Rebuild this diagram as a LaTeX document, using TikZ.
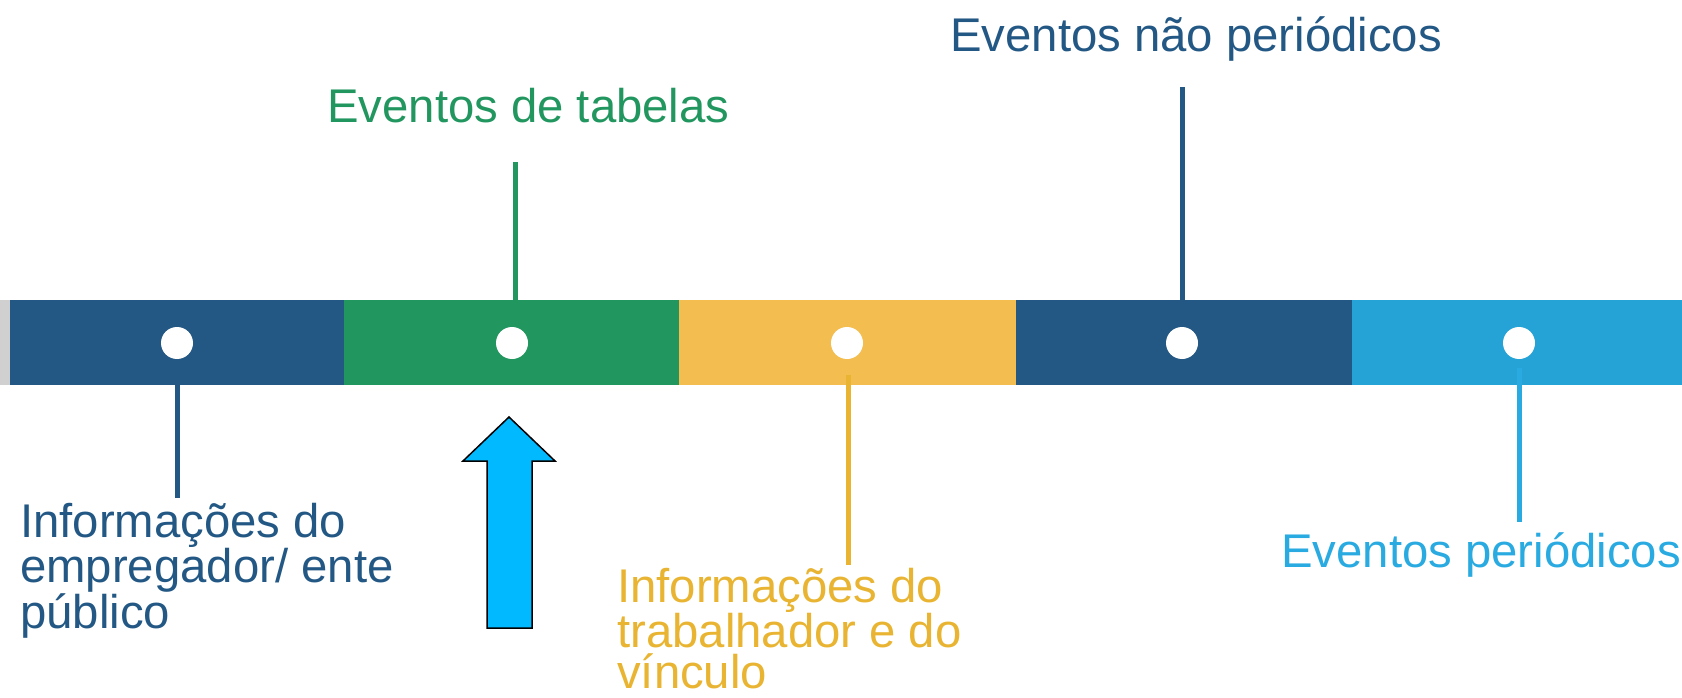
\documentclass[tikz,border=0pt]{standalone}
\usepackage{fontspec}
\setmainfont{Liberation Sans}
\definecolor{navy}{HTML}{235885}
\definecolor{grn}{HTML}{22965F}
\definecolor{ylwbar}{HTML}{F3BD50}
\definecolor{ylw}{HTML}{E8B431}
\definecolor{skybar}{HTML}{25A3D6}
\definecolor{sky}{HTML}{29AAE1}
\definecolor{arrowblue}{HTML}{00B9FF}
\definecolor{sliver}{HTML}{D0D0D0}
\begin{document}
\begin{tikzpicture}[x=1pt,y=-1pt,
  dot/.style={circle,fill=white,draw=none,minimum size=32pt,inner sep=0pt},
  conn/.style={line width=5pt},
  lbl/.style={anchor=base west,inner sep=0pt,align=left,font=\fontsize{47.3}{44.5}\selectfont},
  lbly/.style={anchor=base west,inner sep=0pt,align=left,font=\fontsize{47.3}{40.5}\selectfont}]
\useasboundingbox (0,0) rectangle (1682,698);
% bar
\fill[sliver] (0,300) rectangle (10,385);
\fill[navy] (10,300) rectangle (344,385);
\fill[grn] (344,300) rectangle (679,385);
\fill[ylwbar] (679,300) rectangle (1016,385);
\fill[navy] (1016,300) rectangle (1352,385);
\fill[skybar] (1352,300) rectangle (1682,385);
% dots
\node[dot] (c1) at (177,343) {};
\node[dot] (c2) at (512,343) {};
\node[dot] (c3) at (847,343) {};
\node[dot] (c4) at (1182,343) {};
\node[dot] (c5) at (1519,343) {};
% labels (multi-line nodes: base = last line's baseline)
\node[lbl,text=navy] (t1) at (20,628) {Informações do\\empregador/ ente\\público};
\node[lbl,text=grn] (t2) at (327,123) {Eventos de tabelas};
\node[lbly,text=ylw] (t3) at (617,688) {Informações do\\trabalhador e do\\vínculo};
\node[lbl,text=navy] (t4) at (950,52) {Eventos não periódicos};
\node[lbl,text=sky] (t5) at (1281,567) {Eventos periódicos};
% connector ends
\coordinate (e1a) at (177,360); \coordinate (e1b) at (177,498);
\coordinate (e2a) at (515,300); \coordinate (e2b) at (515,162);
\coordinate (e3a) at (848,375); \coordinate (e3b) at (848,565);
\coordinate (e4a) at (1182,300); \coordinate (e4b) at (1182,87);
\coordinate (e5a) at (1519,368); \coordinate (e5b) at (1519,522);
\draw[conn,navy] (e1a) -- (e1b);
\draw[conn,grn] (e2a) -- (e2b);
\draw[conn,ylw] (e3a) -- (e3b);
\draw[conn,navy] (e4a) -- (e4b);
\draw[conn,sky] (e5a) -- (e5b);
% block arrow
\draw[fill=arrowblue,draw=black,line width=1.5pt,line join=miter]
  (487,628) -- (487,461) -- (463,461) -- (509,417) -- (555,461) -- (532,461) -- (532,628) -- cycle;
\end{tikzpicture}
\end{document}
